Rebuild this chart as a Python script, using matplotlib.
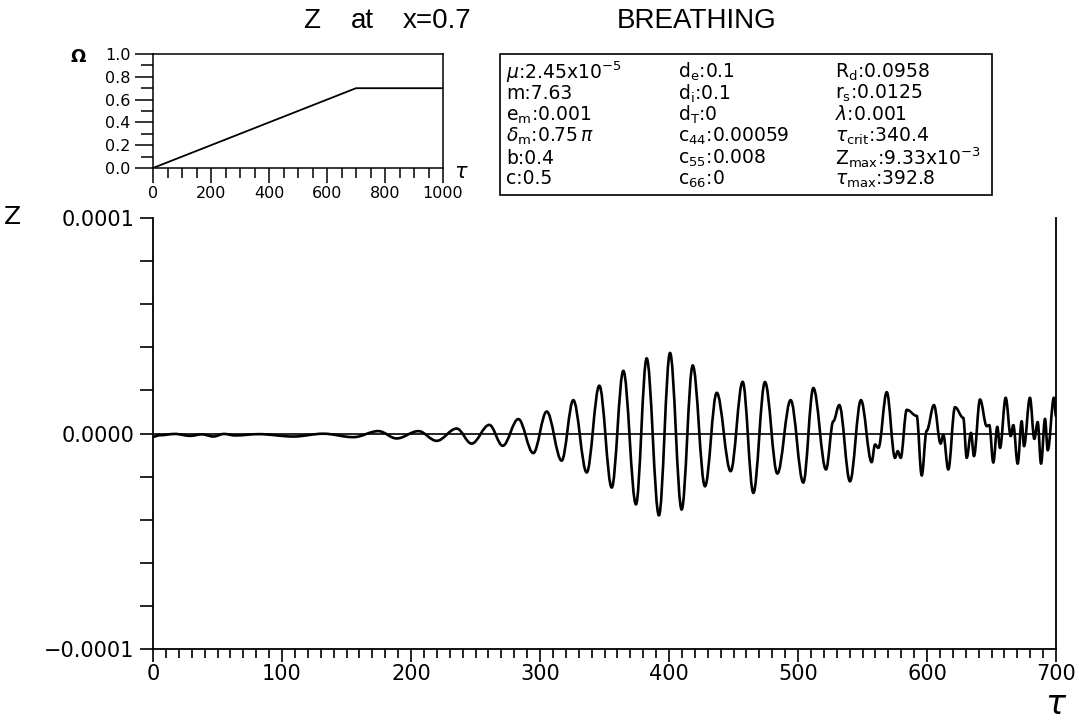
import numpy as np
import matplotlib
matplotlib.use("Agg")
import matplotlib.pyplot as plt
from matplotlib.path import Path
from matplotlib.patches import PathPatch, Rectangle
from matplotlib.ticker import MultipleLocator, FixedLocator

# ---------------- data ----------------
# extrema / turning points of Z(tau) (Z in units of 1e-4)
tau_pts = [0, 5.4, 17, 28.7, 38, 46.8, 55, 63.6, 82, 108.8, 132, 155.3, 174.7,
           188.9, 205.7, 219.9, 235.4, 247.0, 260.7, 271.1, 283.2, 294.8, 305.2,
           316.8, 325.8, 336.2, 346.0, 355.6, 364.6, 374.4, 382.7, 392.2, 400.8,
           409.8, 418.4, 427.9, 437.0, 447.8, 457.1, 465.4, 474.4, 484.0, 494.3,
           504.1, 511.9, 521.7, 527.4, 532.0, 540.3, 548.8, 557.1, 559.7, 562.3,
           568.8, 575.2, 577.3, 579.6, 584.3, 592.0, 595.9, 599.7, 605.4, 610.6,
           612.6, 616.5, 621.7, 628.1, 630.8, 634.1, 636.4, 641.1, 646.3, 648.3,
           651.4, 654.5, 656.6, 661.0, 664.9, 666.9, 670.3, 673.4, 675.2, 679.8,
           683.2, 685.8, 688.4, 691.5, 693.6, 698.4, 700]
z_pts = [-0.015, -0.008, -0.002, -0.011, -0.004, -0.014, -0.002, -0.009, -0.003,
         -0.014, -0.001, -0.017, 0.011,
         -0.023, 0.011, -0.034, 0.023, -0.047, 0.040, -0.057, 0.067, -0.091, 0.102,
         -0.126, 0.155, -0.181, 0.222, -0.251, 0.291, -0.329, 0.349, -0.380, 0.374,
         -0.353, 0.316, -0.245, 0.189, -0.175, 0.240, -0.276, 0.239, -0.186, 0.155,
         -0.228, 0.211, -0.167, 0.057, 0.132, -0.222, 0.155, -0.133, -0.051, -0.067,
         0.192, -0.113, -0.082, -0.113, 0.110, 0.082, -0.195, 0.012, 0.132, -0.047,
         -0.005, -0.167, 0.122, 0.073, -0.113, 0.003, -0.105, 0.158, 0.034, 0.039,
         -0.135, 0.031, -0.067, 0.166, -0.012, 0.039, -0.140, 0.057, -0.059, 0.166,
         -0.025, 0.053, -0.140, 0.068, -0.078, 0.166, 0.080]

# inset: rotation speed ramp
omega_tau = [0, 700, 1000]
omega_val = [0.0, 0.7, 0.7]

title_parts = ["Z", "at", "x=0.7", "BREATHING"]
main_yticks = [-1e-4, 0.0, 1e-4]
main_yticklabels = ["\u22120.0001", "0.0000", "0.0001"]
main_xticks = [0, 100, 200, 300, 400, 500, 600, 700]
inset_xticks = [0, 200, 400, 600, 800, 1000]
inset_yticks = [0.0, 0.2, 0.4, 0.6, 0.8, 1.0]

param_col1 = [r"$\mu$:2.45x10$^{-5}$", "m:7.63", r"e$_\mathrm{m}$:0.001",
              r"$\delta_\mathrm{m}$:0.75$\,\pi$", "b:0.4", "c:0.5"]
param_col2 = [r"d$_\mathrm{e}$:0.1", r"d$_\mathrm{i}$:0.1", r"d$_\mathrm{T}$:0",
              r"c$_{44}$:0.00059", r"c$_{55}$:0.008", r"c$_{66}$:0"]
param_col3 = [r"R$_\mathrm{d}$:0.0958", r"r$_\mathrm{s}$:0.0125", r"$\lambda$:0.001",
              r"$\tau_\mathrm{crit}$:340.4", r"Z$_\mathrm{max}$:9.33x10$^{-3}$",
              r"$\tau_\mathrm{max}$:392.8"]

# ---------------- figure ----------------
plt.rcParams['font.family'] = ['DejaVu Sans']
plt.rcParams['mathtext.fontset'] = 'dejavusans'

W, H = 1085, 721
fig = plt.figure(figsize=(W / 100, H / 100), dpi=100)

def fx(px):
    return px / W

def fy(py):
    return 1 - py / H

# main axes
L, R, T, B = 153, 1056, 218, 649
ax = fig.add_axes([fx(L), fy(B), fx(R) - fx(L), fy(T) - fy(B)])
ax.set_xlim(0, 700)
ax.set_ylim(-1e-4, 1e-4)
ax.spines['top'].set_visible(False)
for s in ['left', 'bottom', 'right']:
    ax.spines[s].set_linewidth(1.3)

ax.axhline(0, color='black', lw=1.2, zorder=1)

# smooth curve through the read turning points (horizontal tangent at each point)
t = np.asarray(tau_pts, float)
z = np.asarray(z_pts, float) * 1e-4
k = 0.36
verts = [(t[0], z[0])]
codes = [Path.MOVETO]
for i in range(1, len(t)):
    dt = t[i] - t[i - 1]
    verts += [(t[i - 1] + k * dt, z[i - 1]), (t[i] - k * dt, z[i]), (t[i], z[i])]
    codes += [Path.CURVE4] * 3
ax.add_patch(PathPatch(Path(verts, codes), fill=False, lw=1.9, ec='black',
                       capstyle='round', joinstyle='round', zorder=3))

ax.xaxis.set_major_locator(FixedLocator(main_xticks))
ax.xaxis.set_minor_locator(MultipleLocator(10))
ax.yaxis.set_major_locator(FixedLocator(main_yticks))
ax.yaxis.set_minor_locator(MultipleLocator(0.2e-4))
ax.set_yticklabels(main_yticklabels)
ax.set_xticklabels([str(v) for v in main_xticks])
ax.tick_params(axis='x', which='major', direction='out', length=9, width=1.2,
               labelsize=15, pad=2)
ax.tick_params(axis='x', which='minor', direction='out', length=6.5, width=1.2)
ax.tick_params(axis='y', which='major', direction='out', length=9.5, width=1.2,
               labelsize=15, pad=4)
ax.tick_params(axis='y', which='minor', direction='out', length=9.5, width=1.2)

fig.text(fx(12), fy(217), "Z", fontsize=18, ha='center', va='center')
fig.text(fx(1056), fy(705), r"$\tau$", fontsize=24, ha='center', va='center')

# inset axes
iL, iR, iT, iB = 153, 443, 54, 168
ax2 = fig.add_axes([fx(iL), fy(iB), fx(iR) - fx(iL), fy(iT) - fy(iB)])
ax2.plot(omega_tau, omega_val, color='black', lw=1.3)
ax2.set_xlim(0, 1000)
ax2.set_ylim(0, 1.0)
ax2.xaxis.set_major_locator(FixedLocator(inset_xticks))
ax2.xaxis.set_minor_locator(MultipleLocator(50))
ax2.yaxis.set_major_locator(FixedLocator(inset_yticks))
ax2.yaxis.set_minor_locator(MultipleLocator(0.1))
ax2.set_xticklabels([str(v) for v in inset_xticks])
ax2.set_yticklabels([f"{v:.1f}" for v in inset_yticks])
ax2.tick_params(axis='x', which='major', direction='out', length=11, width=1.1,
                labelsize=11.5, pad=2)
ax2.tick_params(axis='x', which='minor', direction='out', length=7, width=1.1)
ax2.tick_params(axis='y', which='major', direction='out', length=13, width=1.1,
                labelsize=11.5, pad=3)
ax2.tick_params(axis='y', which='minor', direction='out', length=9, width=1.1)
for s in ax2.spines.values():
    s.set_linewidth(1.1)
fig.text(fx(78), fy(57), r"$\mathbf{\Omega}$", fontsize=13, ha='center', va='center')
fig.text(fx(461), fy(172), r"$\tau$", fontsize=15, ha='center', va='center')

# title
title_x = [312, 362, 437, 697]
for txt, xp in zip(title_parts, title_x):
    fig.text(fx(xp), fy(21), txt, fontsize=20, ha='center', va='center',
             family='Liberation Sans')

# parameter box
fig.add_artist(Rectangle((fx(500), fy(195)), fx(992) - fx(500), fy(54) - fy(195),
                         transform=fig.transFigure, fill=False, lw=1.2, ec='black'))
row_y = [72, 93.5, 115, 136.5, 158, 179]
for col, xp in zip([param_col1, param_col2, param_col3], [506, 678, 835]):
    for txt, yp in zip(col, row_y):
        fig.text(fx(xp), fy(yp), txt, fontsize=13.5, ha='left', va='center')

fig.savefig("out.png", dpi=100)
